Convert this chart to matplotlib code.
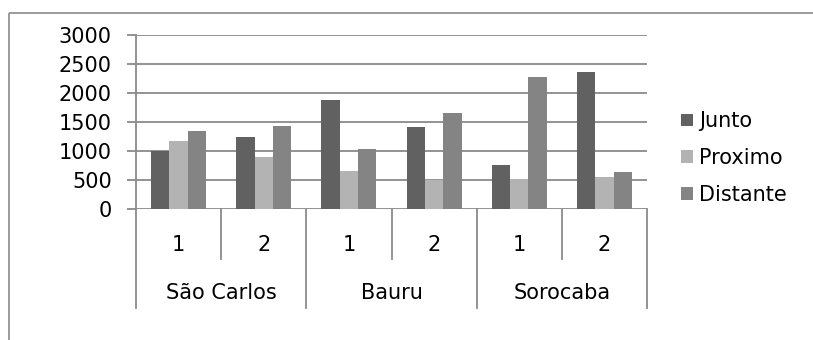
import matplotlib.pyplot as plt
from matplotlib.lines import Line2D
from matplotlib.patches import Patch
import numpy as np

cities = ["São Carlos", "Bauru", "Sorocaba"]
rounds = ["1", "2"]
series = ["Junto", "Proximo", "Distante"]
junto = [1000, 1240, 1885, 1425, 765, 2375]
proximo = [1175, 895, 660, 505, 520, 560]
distante = [1350, 1435, 1040, 1655, 2285, 650]
colors = ["#616161", "#b3b3b3", "#848484"]
line_gray = "#8a8a8a"
fs = 15

plt.rcParams["font.family"] = ["DejaVu Sans"]
W, H = 813, 340
fig = plt.figure(figsize=(W / 100, H / 100), dpi=100)
ax = fig.add_axes([136 / W, 1 - 209.3 / H, (647 - 136) / W, (209.3 - 35.3) / H])

n = len(cities) * len(rounds)
x = np.arange(n) + 0.5
width = 0.215
for i, (name, vals) in enumerate(zip(series, [junto, proximo, distante])):
    ax.bar(x + (i - 1) * width, vals, width, color=colors[i], label=name, zorder=3)

ax.set_xlim(0, n)
ax.set_ylim(0, 3000)
ax.set_yticks(range(0, 3001, 500))
ax.yaxis.grid(True, color=line_gray, lw=1.3, zorder=0)
ax.tick_params(axis="y", length=6.5, width=1.3, color=line_gray, pad=11, labelsize=fs)
ax.set_xticks([])
for side in ["top", "right", "bottom"]:
    ax.spines[side].set_visible(False)
ax.spines["left"].set_color(line_gray)
ax.spines["left"].set_linewidth(1.3)

# two-level category axis below the plot
tr = ax.get_xaxis_transform()
for k in range(n + 1):
    depth = -0.567 if k % 2 == 0 else -0.286
    ax.plot([k, k], [0, depth], transform=tr, color=line_gray, lw=1.3, clip_on=False)
for k in range(n):
    ax.text(k + 0.5, -0.205, rounds[k % 2], transform=tr, ha="center", va="center",
            fontsize=fs)
for j, city in enumerate(cities):
    ax.text(2 * j + 1, -0.48, city, transform=tr, ha="center", va="center", fontsize=fs)

handles = [Patch(facecolor=c, label=s) for c, s in zip(colors, series)]
fig.legend(handles=handles, loc="center left", bbox_to_anchor=(681 / W, 1 - 158 / H),
           frameon=False, fontsize=fs, handlelength=0.58, handleheight=0.58,
           handletextpad=0.3, labelspacing=0.8, borderpad=0, borderaxespad=0)

# outer chart frame (only top and left edges fall inside the image)
fig.add_artist(Line2D([8.5 / W, 1.01], [1 - 13 / H] * 2, transform=fig.transFigure,
                      color=line_gray, lw=1.2, solid_capstyle="butt"))
fig.add_artist(Line2D([8.5 / W] * 2, [-0.01, 1 - 13 / H], transform=fig.transFigure,
                      color=line_gray, lw=1.2, solid_capstyle="butt"))

fig.savefig("out.png", dpi=100)
